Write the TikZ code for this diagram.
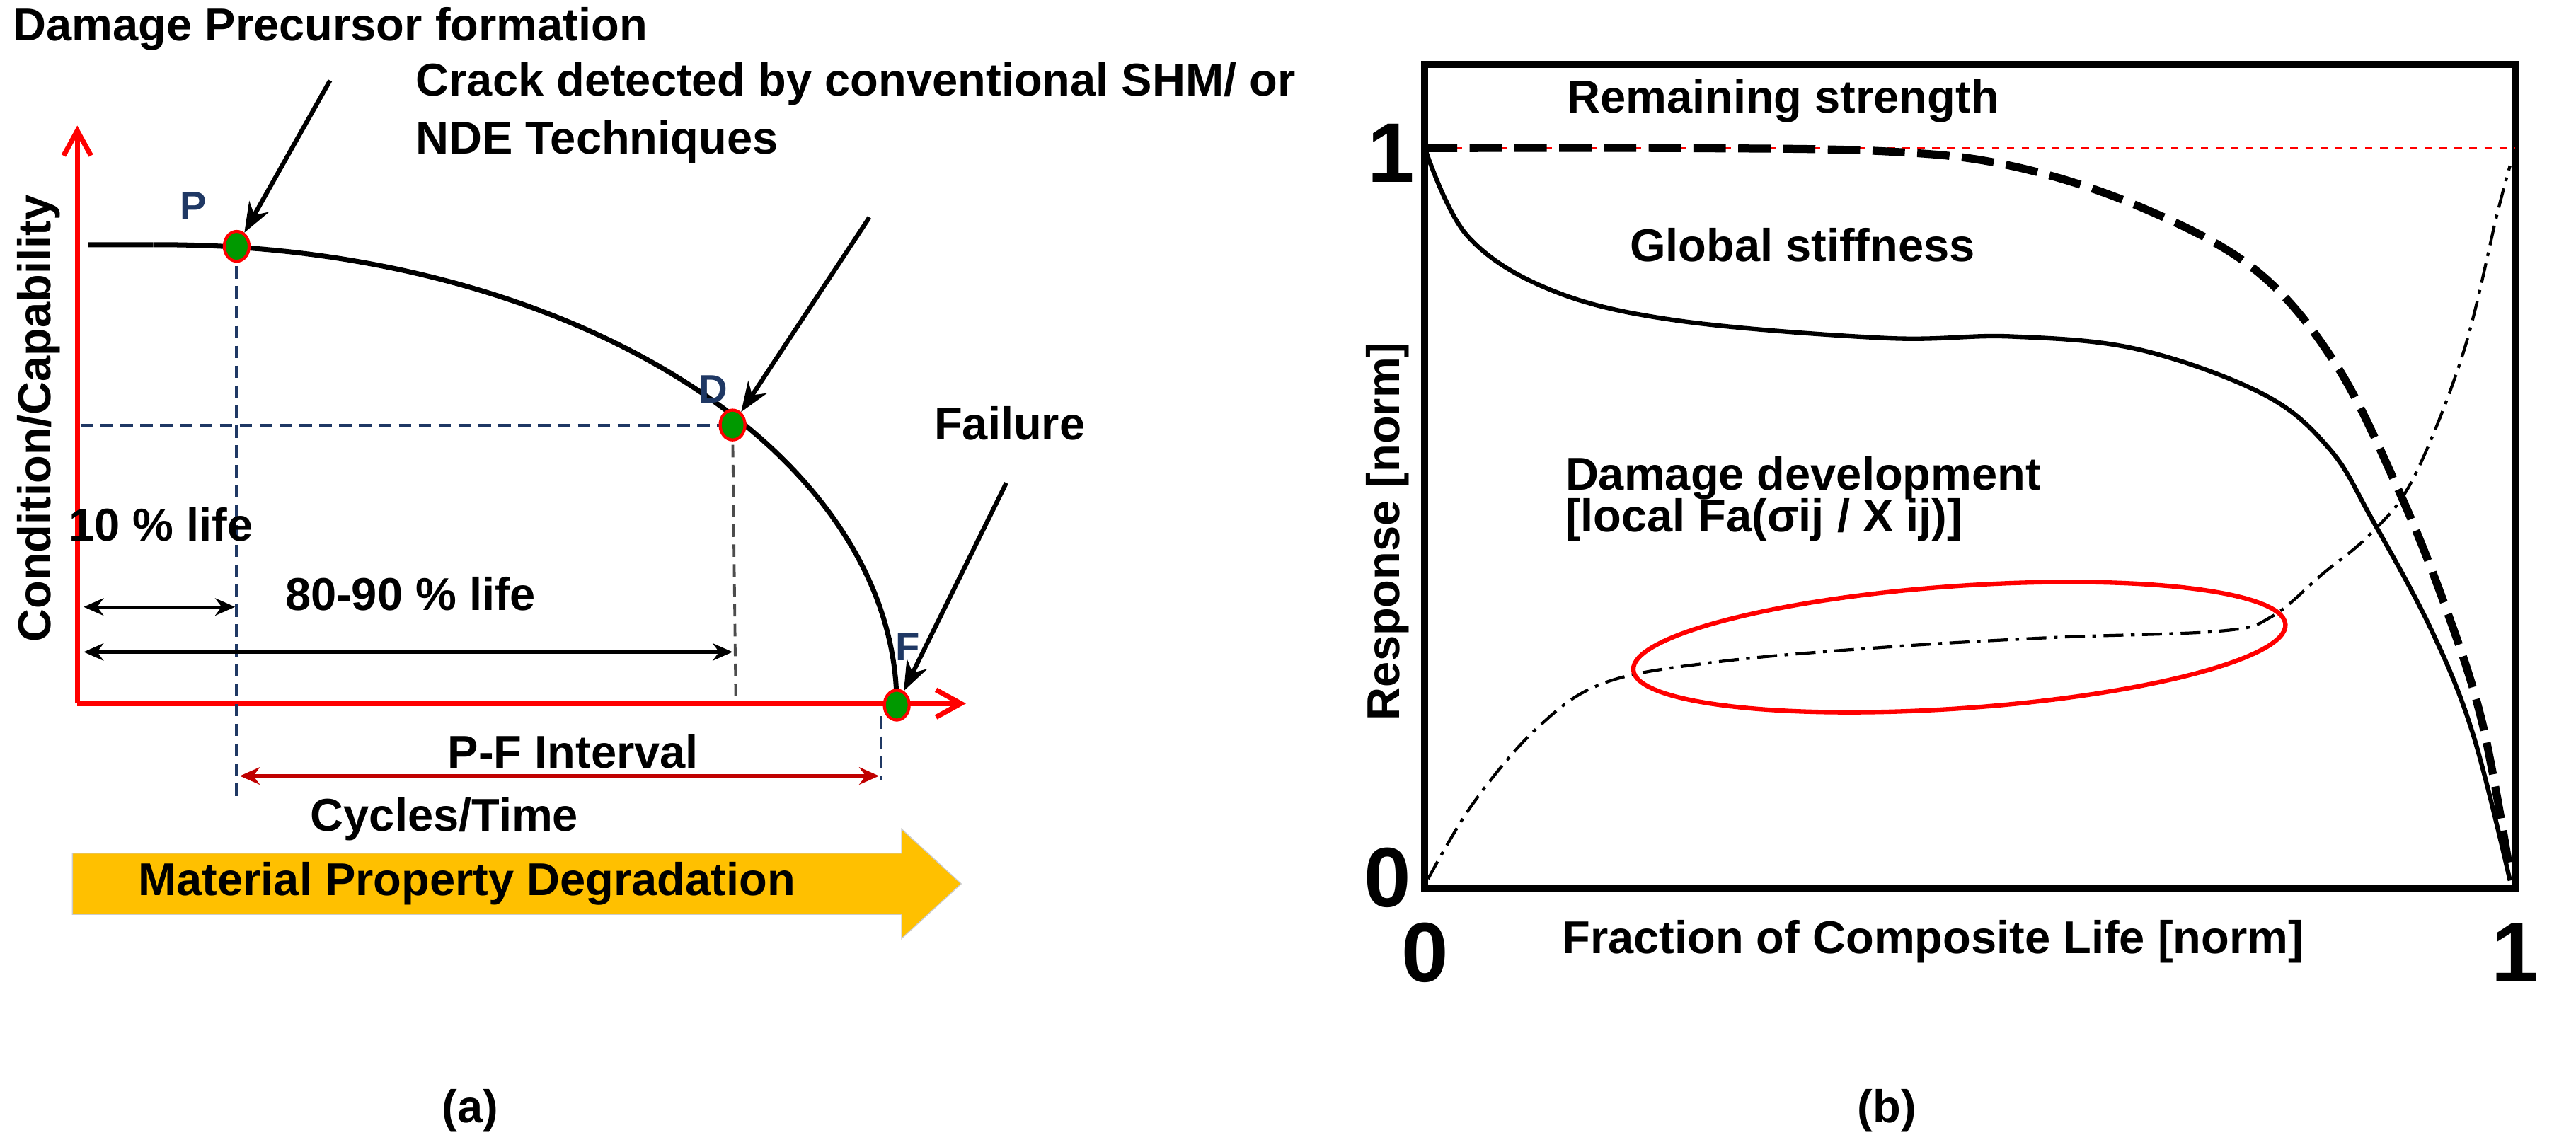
\documentclass[tikz,border=0pt]{standalone}
\usepackage{fontspec}
\setmainfont{Liberation Sans}
\usetikzlibrary{arrows.meta,shapes.geometric,shapes.arrows}
\definecolor{navy}{RGB}{31,56,100}
\definecolor{dred}{RGB}{192,0,0}
\definecolor{gold}{RGB}{255,192,0}
\begin{document}
\begin{tikzpicture}[x=0.02275cm,y=-0.02275cm,
  txt/.style={font=\fontsize{18.5}{22}\selectfont\bfseries,inner sep=0pt},
  lbl/.style={font=\fontsize{16}{19}\selectfont\bfseries,text=navy,inner sep=0pt},
  big/.style={font=\fontsize{34}{38}\selectfont\bfseries,inner sep=0pt},
  dot/.style={ellipse,fill=green!60!black,draw=red,line width=1.2pt,minimum width=10pt,minimum height=12pt,inner sep=0pt},
  blk/.style={-{Stealth[length=12pt,width=9pt]},line width=1.8pt},
  dbl/.style={{Stealth[length=8pt,width=7pt]}-{Stealth[length=8pt,width=7pt]},line width=1.2pt},
  dsh/.style={dashed,navy,line width=1.1pt,dash pattern=on 5pt off 3pt}]
\useasboundingbox (0,0) rectangle (1600,705);
% ---------- panel (a) ----------
\coordinate (o) at (48,437);
\coordinate (ytop) at (48,78);
\coordinate (xend) at (600,437);
\draw[red,line width=2pt,-{Straight Barb[length=10pt,width=11pt]}] (o) -- (ytop);
\draw[red,line width=2pt,-{Straight Barb[length=10pt,width=11pt]}] (o) -- (xend);
\draw[line width=2pt] (55,152) -- (95,152) plot[smooth,samples=60,domain=-0.6:90] ({100+457*sin(\x)},{438-286*cos(\x)});
\coordinate (Pc) at (147,153);
\coordinate (Dc) at (455,264);
\coordinate (Fc) at (557,438);
\coordinate (Pb) at (147,495);
\coordinate (Fb) at (547,485);
\coordinate (Db) at (457,435);
\coordinate (hL) at (50,264);
\draw[dsh] (Pc) -- (Pb);
\draw[dsh] (hL) -- (Dc);
\draw[dsh,gray!60!black] (Dc) -- (Db);
\draw[dsh] (547,445) -- (Fb);
\node[dot] (P) at (Pc) {};
\node[dot] (D) at (Dc) {};
\node[dot] (F) at (Fc) {};
\node[lbl] at (120,128) {P};
\node[lbl] at (443,242) {D};
\node[lbl] at (564,402) {F};
\node[txt,anchor=west] (t1) at (8,18) {Damage Precursor formation};
\coordinate (a1) at (205,50);
\draw[blk] (a1) -- (P);
\node[txt,anchor=west] (t2) at (258,52) {Crack detected by conventional SHM/ or};
\node[txt,anchor=west] (t3) at (258,88) {NDE Techniques};
\coordinate (a2) at (540,135);
\draw[blk] (a2) -- (D);
\node[txt,anchor=west] (t4) at (580,263) {Failure};
\coordinate (a3) at (625,300);
\draw[blk] (a3) -- (F);
\node[txt,rotate=90] at (24,260) {Condition/Capability};
\node[txt] at (100,326) {10 \% life};
\coordinate (l1a) at (52,377); \coordinate (l1b) at (146,377);
\draw[dbl] (l1a) -- (l1b);
\node[txt] at (255,369) {80-90 \% life};
\coordinate (l2a) at (52,405); \coordinate (l2b) at (455,405);
\draw[dbl] (l2a) -- (l2b);
\node[txt] at (356,467) {P-F Interval};
\coordinate (pfa) at (149,482); \coordinate (pfb) at (546,482);
\draw[dbl,dred,line width=1.6pt] (pfa) -- (pfb);
\node[txt] at (276,509) {Cycles/Time};
\fill[gold,draw=gray!40] (45,530) -- (560,530) -- (560,515) -- (597,549) -- (560,583) -- (560,568) -- (45,568) -- cycle;
\node[txt] at (290,549) {Material Property Degradation};
\node[txt] at (292,690) {(a)};
% ---------- panel (b) ----------
\draw[line width=2.8pt] (885,40) rectangle (1562,552);
\draw[red,dashed,line width=1pt] (885,92) -- (1562,92);
\draw[line width=3.2pt,dash pattern=on 13pt off 5pt] plot[smooth,tension=0.6] coordinates {(885,92) (1041,92) (1171,94) (1249,103) (1328,128) (1400,167) (1450,225) (1490,305) (1520,380) (1542,450) (1559,542)};
\draw[line width=1.8pt] plot[smooth,tension=0.6] coordinates {(885,92) (911,146) (963,180) (1041,199) (1171,210) (1249,209) (1328,217) (1406,245) (1447,279) (1473,322) (1510,391) (1536,456) (1559,547)};
\draw[line width=1.2pt,dash pattern=on 8pt off 3pt on 1.5pt off 3pt] plot[smooth,tension=0.6] coordinates {(887,546) (915,499) (955,452) (997,424) (1068,411) (1171,402) (1275,396) (1379,392) (1411,383) (1442,357) (1473,331) (1499,297) (1530,219) (1551,133) (1559,103)};
\node[ellipse,draw=red,line width=1.8pt,minimum width=406*0.02275cm,minimum height=76*0.02275cm,rotate=4] (ell) at (1217,402) {};
\node[txt,anchor=west] at (973,63) {Remaining strength};
\node[txt,anchor=west] at (1012,152) {Global stiffness};
\node[txt,anchor=west] at (972,297) {Damage development};
\node[txt,anchor=west] at (972,323) {[local Fa(σij / X ij)]};
\node[txt,rotate=90] at (862,330) {Response [norm]};
\node[big] at (864,95) {1};
\node[big] at (862,545) {0};
\node[big] at (885,592) {0};
\node[big] at (1562,592) {1};
\node[txt,anchor=west] at (970,585) {Fraction of Composite Life [norm]};
\node[txt] at (1172,690) {(b)};
\end{tikzpicture}
\end{document}
